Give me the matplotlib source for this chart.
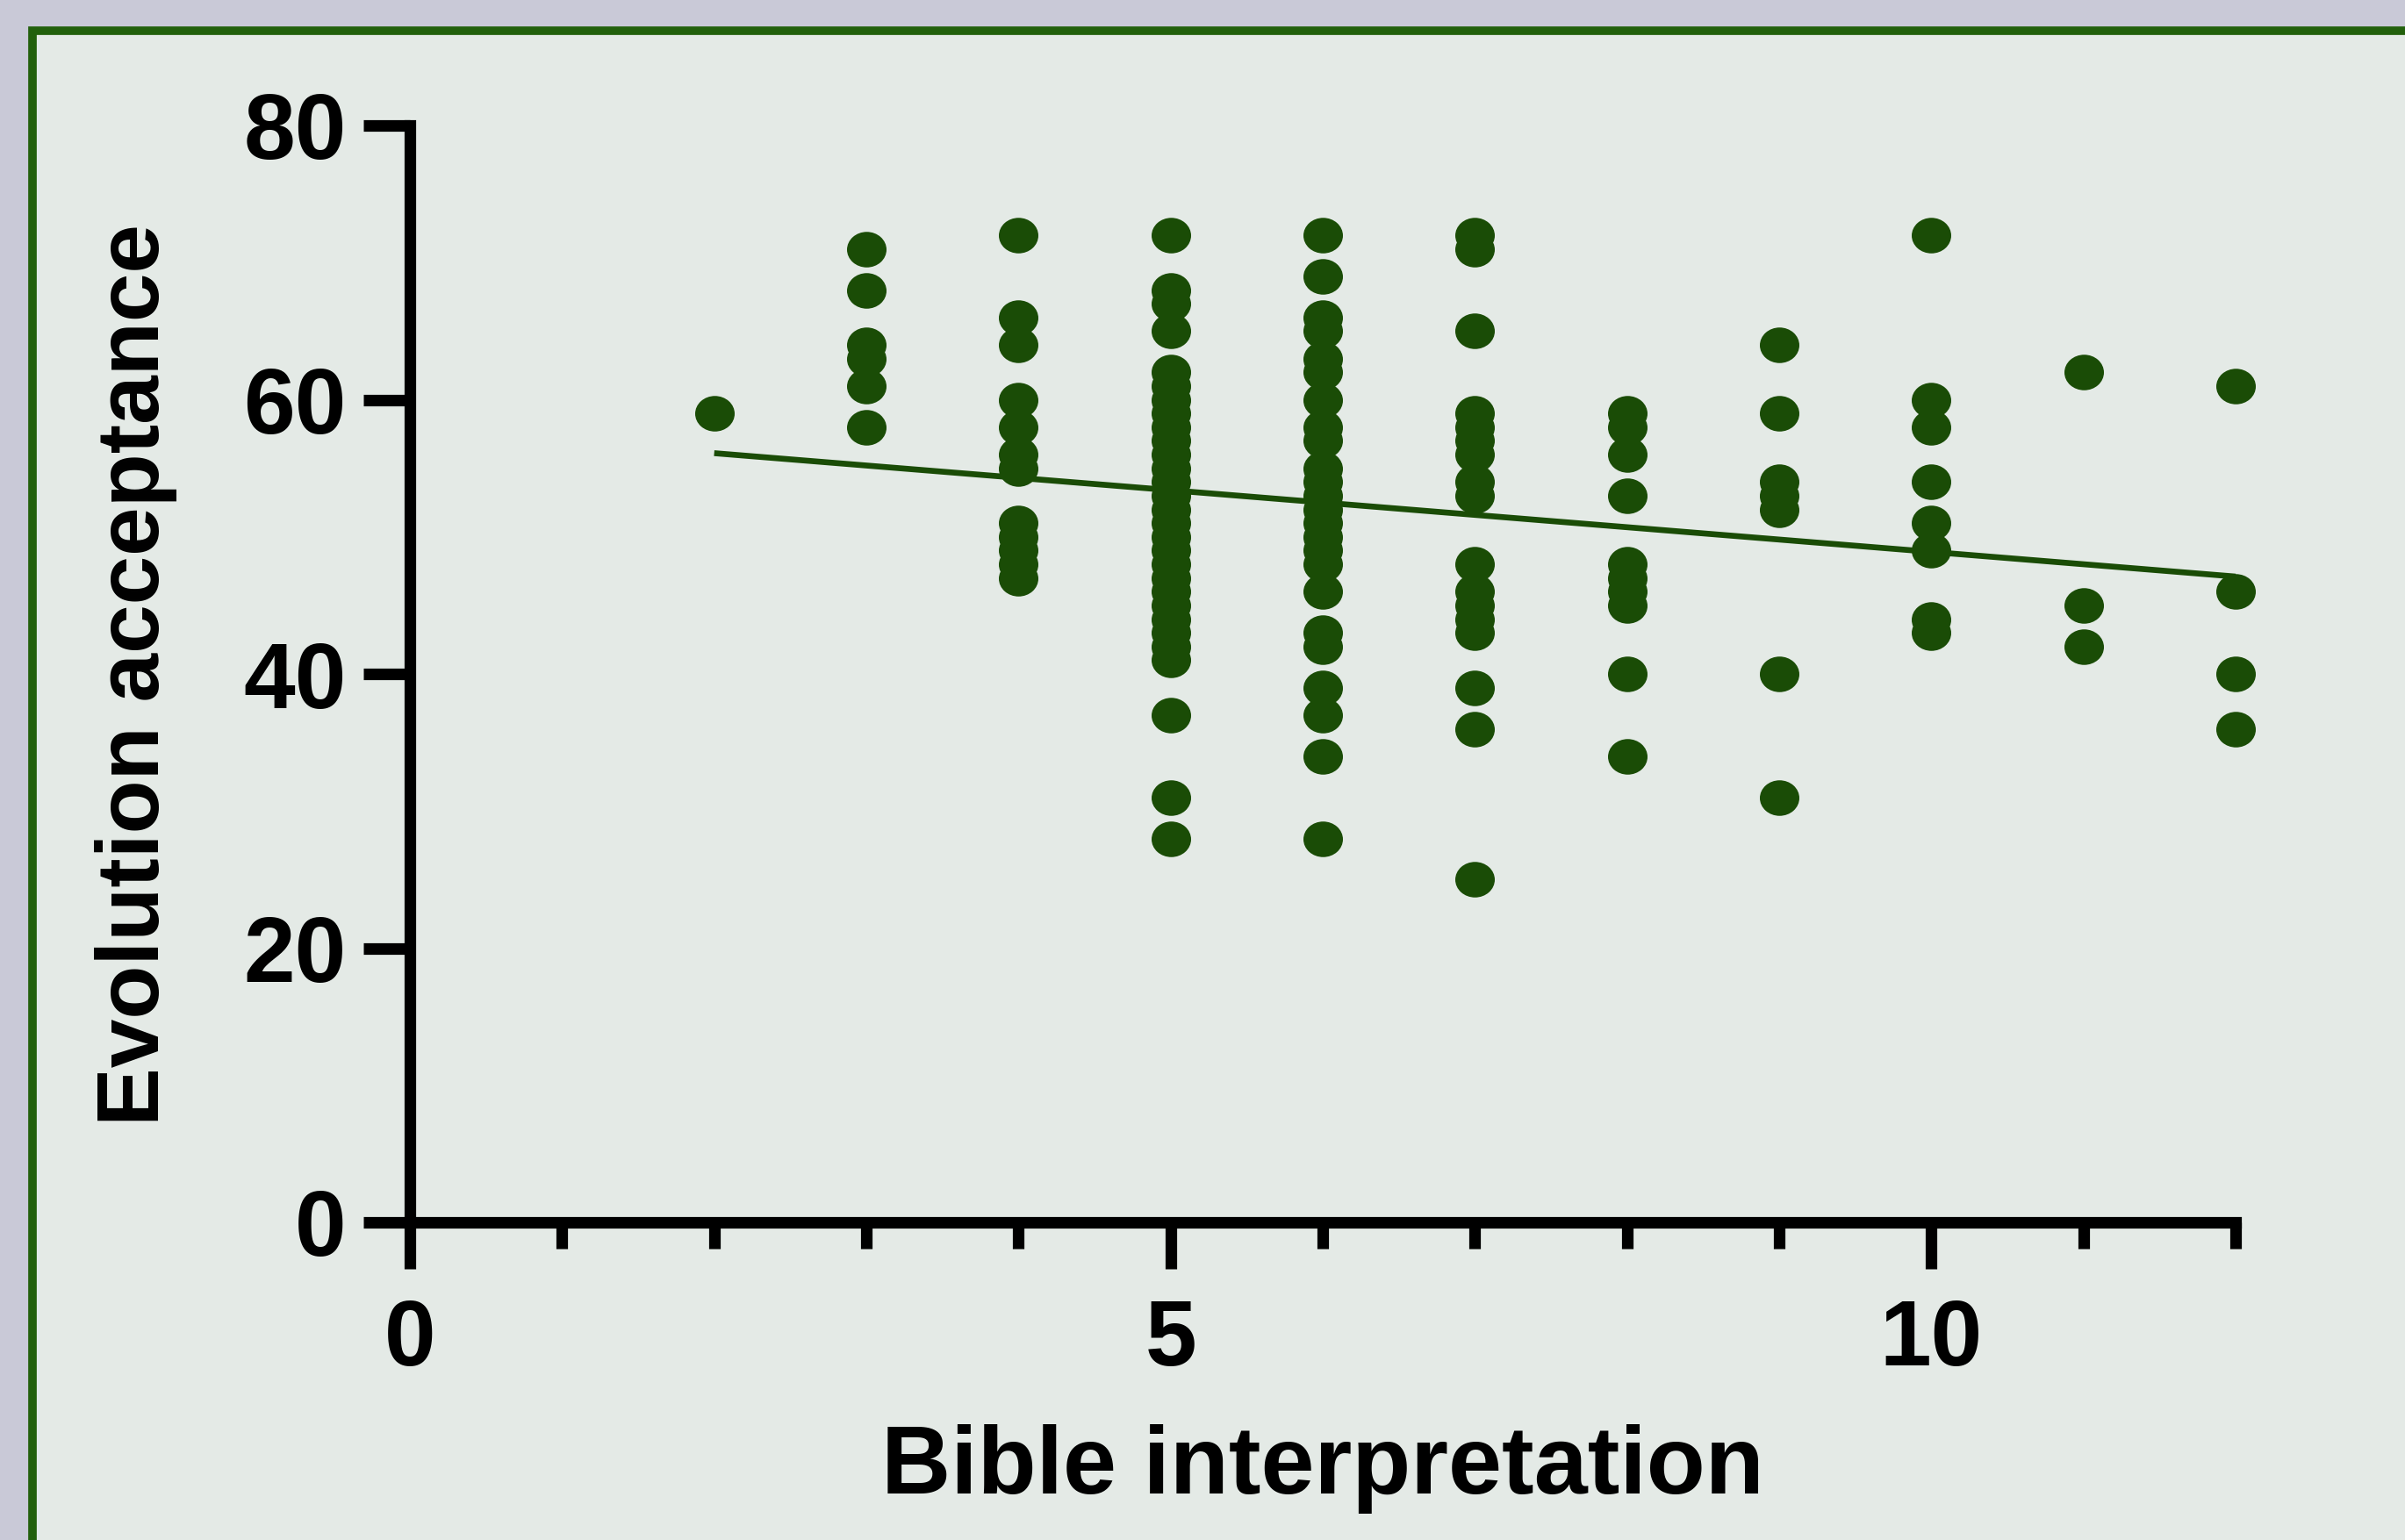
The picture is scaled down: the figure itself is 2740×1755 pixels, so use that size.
import numpy as np
import matplotlib
matplotlib.use("Agg")
import matplotlib.pyplot as plt
from matplotlib.path import Path
from matplotlib.transforms import Affine2D
from matplotlib.patches import Rectangle
from matplotlib.ticker import FixedLocator

# ---------------- data ----------------
levels = [2, 3, 4, 5, 6, 7, 8, 9, 10, 11, 12]
acc_2 = [59]
acc_3 = [71, 68, 64, 63, 61, 58]
acc_4 = [72, 66, 64, 60, 58, 56, 55, 51, 50, 49, 48, 47]
acc_5 = [72, 68, 67, 65, 62, 61, 60, 59, 58, 57, 56, 55, 54, 53, 52, 51,
         50, 49, 48, 47, 46, 45, 44, 43, 42, 41, 37, 31, 28]
acc_6 = [72, 69, 66, 65, 63, 62, 60, 58, 57, 55, 54, 53, 52, 51, 50, 49,
         48, 46, 43, 42, 39, 37, 34, 28]
acc_7 = [72, 71, 65, 59, 58, 57, 56, 54, 53, 48, 46, 45, 44, 43, 39, 36, 25]
acc_8 = [59, 58, 56, 53, 48, 47, 46, 45, 40, 34]
acc_9 = [64, 59, 54, 53, 52, 40, 31]
acc_10 = [72, 60, 58, 54, 51, 49, 44, 43]
acc_11 = [62, 45, 42]
acc_12 = [61, 46, 40, 36]
acceptance_groups = [acc_2, acc_3, acc_4, acc_5, acc_6, acc_7, acc_8,
                     acc_9, acc_10, acc_11, acc_12]

fit_x = [2, 12]
fit_y = [56.1, 47.1]

x_major = [0, 5, 10]
x_minor = [1, 2, 3, 4, 6, 7, 8, 9, 11, 12]
y_major = [0, 20, 40, 60, 80]

x_label = "Bible interpretation"
y_label = "Evolution acceptance"

# ---------------- style ----------------
W, H = 2740, 1755
DPI = 100
outer_bg = "#c9c9d7"
panel_bg = "#e4eae6"
border_col = "#22600c"
dot_col = "#1a4c06"
font = ["Liberation Sans", "DejaVu Sans"]

fig = plt.figure(figsize=(W / DPI, H / DPI), dpi=DPI, facecolor=outer_bg)

# panel with green border
panel = Rectangle((37 / W, -0.2), 1.2, 1.2 - 35 / H, transform=fig.transFigure,
                  facecolor=panel_bg, edgecolor=border_col, linewidth=7.0,
                  zorder=-5)
fig.patches.append(panel)

ax = fig.add_axes([467 / W, 1 - 1393 / H, 2080 / W, 1250 / H])
ax.set_zorder(2)
ax.set_facecolor("none")
ax.set_xlim(0, 12)
ax.set_ylim(0, 80)

# elliptical marker (slightly wider than tall)
circ = Path.unit_circle()
ell = Path(Affine2D().scale(1.0, 0.9).transform(circ.vertices), circ.codes)

xs = np.concatenate([[lv] * len(g) for lv, g in zip(levels, acceptance_groups)])
ys = np.concatenate(acceptance_groups)
ax.scatter(xs, ys, s=(45 * 0.72) ** 2, marker=ell, color=dot_col,
           linewidths=0, zorder=3, clip_on=False)
ax.plot(fit_x, fit_y, color=dot_col, linewidth=4.8, zorder=4, clip_on=False,
        solid_capstyle="butt")

for s in ["top", "right"]:
    ax.spines[s].set_visible(False)
for s in ["left", "bottom"]:
    ax.spines[s].set_linewidth(9.5)
    ax.spines[s].set_color("black")
    ax.spines[s].set_capstyle("projecting")

ax.xaxis.set_major_locator(FixedLocator(x_major))
ax.xaxis.set_minor_locator(FixedLocator(x_minor))
ax.yaxis.set_major_locator(FixedLocator(y_major))
ax.tick_params(axis="x", which="major", length=38, width=9.5, direction="out",
               pad=24, labelsize=76, colors="black")
ax.tick_params(axis="x", which="minor", length=21.5, width=9.5, direction="out")
ax.tick_params(axis="y", which="major", length=38, width=9.5, direction="out",
               pad=14, labelsize=76, colors="black")
for lab in ax.get_xticklabels() + ax.get_yticklabels():
    lab.set_fontweight("bold")
    lab.set_family(font)

fig.text(1507 / W, 1 - 1702 / H, x_label, ha="center", va="baseline",
         fontsize=79, fontweight="bold", family=font)
fig.text(108 / W, 1 - 769 / H, y_label, ha="left", va="center", rotation=90,
         fontsize=72, fontweight="bold", family=font)

fig.savefig("out.png", dpi=DPI, facecolor=outer_bg)
